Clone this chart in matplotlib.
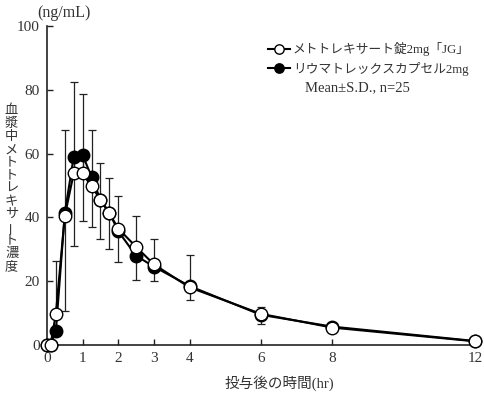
import matplotlib
matplotlib.use("Agg")
import matplotlib.pyplot as plt
import numpy as np

plt.rcParams['font.family'] = ['Liberation Serif', 'Noto Sans CJK JP']

# 採血時間 (hr)
times = [0, 0.1, 0.25, 0.5, 0.75, 1, 1.25, 1.5, 1.75, 2, 2.5, 3, 4, 6, 8, 12]
# メトトレキサート錠2mg「JG」
jg_mean = [0, 0, 9.8, 40.4, 53.8, 54.0, 50.0, 45.4, 41.3, 36.5, 30.8, 25.3, 18.1, 9.8, 5.5, 1.2]
jg_sd = [0, 0, 16.7, 27.1, 28.7, 24.6, 17.5, 11.6, 11.0, 10.2, 9.8, 7.8, 10.2, 2.2, 1.2, 0]
# リウマトレックスカプセル2mg
ref_mean = [0, 0, 4.3, 41.3, 59.0, 59.6, 52.7, 45.6, 41.5, 35.7, 28.0, 24.6, 18.5, 9.5, 5.8, 1.3]
ref_sd = [0, 0, 0, 30.5, 28.0, 20.6, 15.7, 12.3, 11.5, 9.7, 7.6, 4.6, 4.3, 3.0, 1.8, 0]

labels = ['メトトレキサート錠2mg「JG」', 'リウマトレックスカプセル2mg']
ylabel = '血漿中メトトレキサート濃度'

txt = '#333333'
fig = plt.figure(figsize=(4.84, 3.99), dpi=100)
ax = fig.add_axes([0.097, 0.135, 0.884, 0.80])

zeros = np.zeros(len(times))
ax.errorbar(times, jg_mean, yerr=[zeros, jg_sd], fmt='none', ecolor='#222222',
            elinewidth=0.9, capsize=3, capthick=0.9, zorder=2)
ax.errorbar(times, ref_mean, yerr=[ref_sd, zeros], fmt='none', ecolor='#222222',
            elinewidth=0.9, capsize=3, capthick=0.9, zorder=2)

ax.plot(times, ref_mean, '-o', color='black', lw=1.5, ms=9, mfc='black',
        mec='black', mew=1.0, label=labels[1], zorder=3, clip_on=False)
ax.plot(times, jg_mean, '-o', color='black', lw=1.5, ms=9, mfc='white',
        mec='black', mew=1.0, label=labels[0], zorder=4, clip_on=False)

ax.set_xlim(0, 12)
ax.set_ylim(0, 100)
ax.set_xticks([0, 1, 2, 3, 4, 6, 8, 12])
ax.set_yticks([0, 20, 40, 60, 80, 100])
ax.spines['top'].set_visible(False)
ax.spines['right'].set_visible(False)
for s in ['left', 'bottom']:
    ax.spines[s].set_color('#222222')
    ax.spines[s].set_linewidth(1.2)
ax.tick_params(direction='in', length=4, width=1, colors='#222222',
               labelcolor=txt, labelsize=11, pad=5)

handles, labs = ax.get_legend_handles_labels()
leg = ax.legend(handles[::-1], labs[::-1], loc='upper left', bbox_to_anchor=(0.505, 0.965),
                frameon=False, handlelength=1.7, handletextpad=0.25, labelspacing=0.42,
                fontsize=9.2, borderaxespad=0, markerscale=0.75)
for t in leg.get_texts():
    t.set_color(txt)

fig.text(0.63, 0.779, 'Mean±S.D., n=25', fontsize=10.5, color=txt, ha='left', va='center')
fig.text(0.076, 0.967, '(ng/mL)', fontsize=11.5, color=txt, ha='left', va='center')
fig.text(0.578, 0.04, '投与後の時間(hr)', fontsize=10.5, color=txt, ha='center', va='center')

# 縦書きの軸ラベル
y0 = 0.722
step = 0.0325
for i, ch in enumerate(ylabel):
    rot = 90 if ch == 'ー' else 0
    fig.text(0.024, y0 - i * step, ch, fontsize=9.5, color=txt, ha='center',
             va='center', rotation=rot, family=['Noto Sans CJK JP'])

fig.savefig('out.png', dpi=100)
